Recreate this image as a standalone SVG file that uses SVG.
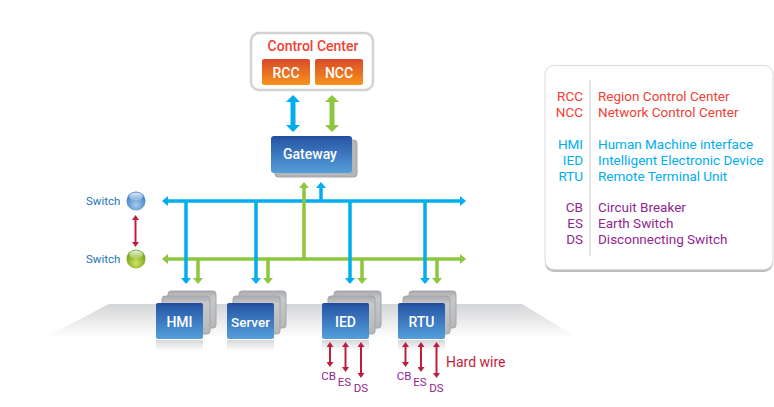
<svg xmlns="http://www.w3.org/2000/svg" width="774" height="407" viewBox="0 0 774 407">
<style>
text{font-family:Roboto,"Liberation Sans",sans-serif}
.w{fill:#fff;font-size:14px;text-anchor:middle;font-weight:500}
.bk{fill:url(#gGray);stroke:#a3a5a8;stroke-width:1}
.fr{fill:url(#gBlue)}
.or{fill:url(#gOrange)}
.bl{stroke:#00aeef;stroke-width:3.500;fill:none}
.gr{stroke:#8dc63f;stroke-width:3.500;fill:none}
.rd{stroke:#be1e3c;stroke-width:2;fill:none}
.tr{fill:#ef4136;font-size:13.500px}
.tb{fill:#00aeef;font-size:13.500px}
.tp{fill:#92278f;font-size:13.500px}
.e{text-anchor:end}
.sw{fill:#1b75bb;font-size:11.500px}
.sm{fill:#92278f;font-size:11.500px;text-anchor:middle}
</style>
<defs>
<linearGradient id="gBlue" x1="0" y1="0" x2="0" y2="1"><stop offset="0" stop-color="#24499c"/><stop offset=".12" stop-color="#2a5cab"/><stop offset="1" stop-color="#559fda"/></linearGradient>
<linearGradient id="gOrange" x1="0" y1="0" x2="0" y2="1"><stop offset="0" stop-color="#d9492a"/><stop offset="1" stop-color="#f7941d"/></linearGradient>
<linearGradient id="gGray" x1="0" y1="0" x2="0" y2="1"><stop offset="0" stop-color="#a8aaad"/><stop offset=".2" stop-color="#c6c8ca"/><stop offset="1" stop-color="#b5b7b9"/></linearGradient>
<linearGradient id="gFloor" x1="0" y1="0" x2="0" y2="1"><stop offset="0" stop-color="#d4d5d7"/><stop offset="1" stop-color="#ffffff"/></linearGradient>
<linearGradient id="gRefl" x1="0" y1="0" x2="0" y2="1"><stop offset="0" stop-color="#d6d7d9"/><stop offset="1" stop-color="#ffffff"/></linearGradient>
<radialGradient id="gS1" cx=".5" cy=".7" r=".6"><stop offset="0" stop-color="#a5cdf0"/><stop offset="1" stop-color="#3f7fc4"/></radialGradient>
<radialGradient id="gS2" cx=".5" cy=".7" r=".6"><stop offset="0" stop-color="#d5e26a"/><stop offset="1" stop-color="#6fa311"/></radialGradient>
<linearGradient id="gGloss" x1="0" y1="0" x2="0" y2="1"><stop offset="0" stop-color="#fff" stop-opacity=".85"/><stop offset="1" stop-color="#fff" stop-opacity=".15"/></linearGradient>
<marker id="mB" markerUnits="userSpaceOnUse" viewBox="0 0 6 10" refX="2" refY="5" markerWidth="6" markerHeight="10" orient="auto-start-reverse"><path d="M0 0L6 5L0 10z" fill="#00aeef"/></marker>
<marker id="mG" markerUnits="userSpaceOnUse" viewBox="0 0 6 10" refX="2" refY="5" markerWidth="6" markerHeight="10" orient="auto-start-reverse"><path d="M0 0L6 5L0 10z" fill="#8dc63f"/></marker>
<marker id="mBb" markerUnits="userSpaceOnUse" viewBox="0 0 7 14" refX="2" refY="7" markerWidth="7" markerHeight="14" orient="auto-start-reverse"><path d="M0 0L7 7L0 14z" fill="#00aeef"/></marker>
<marker id="mGb" markerUnits="userSpaceOnUse" viewBox="0 0 7 14" refX="2" refY="7" markerWidth="7" markerHeight="14" orient="auto-start-reverse"><path d="M0 0L7 7L0 14z" fill="#8dc63f"/></marker>
<marker id="mR" markerUnits="userSpaceOnUse" viewBox="0 0 5 7" refX="2" refY="3.500" markerWidth="5" markerHeight="7" orient="auto-start-reverse"><path d="M0 0L5 3.500L0 7z" fill="#be1e3c"/></marker>
</defs>
<polygon id="floor" points="109,304 522,304 578,338 44,338" fill="url(#gFloor)"/>
<g id="control-center">
<rect x="251" y="33" width="122" height="57" rx="8" fill="#fff" stroke="#d1d2d4" stroke-width="2.500"/>
<text x="313" y="51" text-anchor="middle" font-size="14" font-weight="500" fill="#ef4136">Control Center</text>
<g id="rcc"><rect x="262" y="59" width="48" height="26" rx="2" class="or"/><text x="286" y="78" class="w">RCC</text></g>
<g id="ncc"><rect x="315" y="59" width="48" height="26" rx="2" class="or"/><text x="339" y="78" class="w">NCC</text></g>
</g>
<g id="gateway">
<rect x="275" y="140" width="82" height="37" rx="3" fill="#b3b5b8" stroke="#a3a5a8"/>
<rect x="271" y="136" width="81" height="37" rx="3" class="fr"/>
<text x="310" y="159" class="w">Gateway</text>
</g>
<g id="switch-blue">
<text x="86" y="205" class="sw">Switch</text>
<circle cx="136" cy="201" r="9.500" fill="url(#gS1)"/>
<ellipse cx="136" cy="196.500" rx="7" ry="4" fill="url(#gGloss)"/>
</g>
<g id="switch-green">
<text x="86" y="263" class="sw">Switch</text>
<circle cx="136" cy="259" r="9.500" fill="url(#gS2)"/>
<ellipse cx="136" cy="254.500" rx="7" ry="4" fill="url(#gGloss)"/>
</g>
<g id="hmi">
<rect x="168" y="291" width="48" height="37" rx="3" class="bk"/>
<rect x="162" y="296" width="48" height="38" rx="3" class="bk"/>
<rect x="156" y="340" width="47" height="11" fill="url(#gRefl)"/>
<rect x="156" y="303" width="47" height="36" rx="2" class="fr"/>
<text x="179.500" y="327" class="w">HMI</text>
</g>
<g id="server">
<rect x="239" y="291" width="47" height="37" rx="3" class="bk"/>
<rect x="233" y="296" width="47" height="38" rx="3" class="bk"/>
<rect x="227" y="340" width="47" height="11" fill="url(#gRefl)"/>
<rect x="227" y="303" width="47" height="36" rx="2" class="fr"/>
<text x="250.500" y="327" class="w" style="font-size:13.500px">Server</text>
</g>
<g id="ied">
<rect x="334" y="291" width="47" height="37" rx="3" class="bk"/>
<rect x="328" y="296" width="47" height="38" rx="3" class="bk"/>
<rect x="322" y="340" width="47" height="11" fill="url(#gRefl)"/>
<rect x="322" y="303" width="47" height="36" rx="2" class="fr"/>
<text x="345.500" y="327" class="w">IED</text>
</g>
<g id="rtu">
<rect x="409" y="291" width="47" height="37" rx="3" class="bk"/>
<rect x="403" y="296" width="47" height="38" rx="3" class="bk"/>
<rect x="398" y="340" width="47" height="11" fill="url(#gRefl)"/>
<rect x="398" y="303" width="47" height="36" rx="2" class="fr"/>
<text x="421.500" y="327" class="w">RTU</text>
</g>
<g id="connectors">
<path class="bl" style="stroke-width:5" marker-start="url(#mBb)" marker-end="url(#mBb)" d="M293 100V127"/>
<path class="gr" style="stroke-width:5" marker-start="url(#mGb)" marker-end="url(#mGb)" d="M332 100V127"/>
<path class="bl" marker-start="url(#mB)" marker-end="url(#mB)" d="M166 201H462"/>
<path class="gr" marker-start="url(#mG)" marker-end="url(#mG)" d="M166 259H462"/>
<path class="rd" marker-start="url(#mR)" marker-end="url(#mR)" d="M135.500 218V244"/>
<path class="gr" marker-end="url(#mG)" d="M304 259V186"/>
<path class="bl" marker-end="url(#mB)" d="M321 201V186"/>
<path class="bl" marker-end="url(#mB)" d="M186 201V280"/>
<path class="gr" marker-end="url(#mG)" d="M198 259V280"/>
<path class="bl" marker-end="url(#mB)" d="M256 201V280"/>
<path class="gr" marker-end="url(#mG)" d="M268 259V280"/>
<path class="bl" marker-end="url(#mB)" d="M350 201V280"/>
<path class="gr" marker-end="url(#mG)" d="M362 259V280"/>
<path class="bl" marker-end="url(#mB)" d="M425 201V280"/>
<path class="gr" marker-end="url(#mG)" d="M437 259V280"/>
<path class="rd" marker-start="url(#mR)" marker-end="url(#mR)" d="M330 345V364"/>
<path class="rd" marker-start="url(#mR)" marker-end="url(#mR)" d="M345.500 345V369"/>
<path class="rd" marker-start="url(#mR)" marker-end="url(#mR)" d="M361 345V375"/>
<path class="rd" marker-start="url(#mR)" marker-end="url(#mR)" d="M405.500 345V364"/>
<path class="rd" marker-start="url(#mR)" marker-end="url(#mR)" d="M421 345V369"/>
<path class="rd" marker-start="url(#mR)" marker-end="url(#mR)" d="M436.500 345V375"/>
</g>
<g id="labels">
<text x="328.500" y="380" class="sm">CB</text>
<text x="344.500" y="386" class="sm">ES</text>
<text x="361" y="392" class="sm">DS</text>
<text x="404" y="380" class="sm">CB</text>
<text x="420" y="386" class="sm">ES</text>
<text x="436.500" y="392" class="sm">DS</text>
<text x="446" y="367" font-size="14" fill="#be1e3c">Hard wire</text>
</g>
<g id="legend">
<rect x="545" y="68" width="228" height="204" rx="9" fill="#bcbec0"/>
<rect x="545" y="65.500" width="228" height="204" rx="9" fill="#fff" stroke="#d9dadb"/>
<path d="M590 80V256" stroke="#dcdddf" stroke-width="1.500"/>
<g class="tr">
<text x="583" y="101" class="e">RCC</text><text x="598" y="101">Region Control Center</text>
<text x="583" y="117" class="e">NCC</text><text x="598" y="117">Network Control Center</text>
</g>
<g class="tb">
<text x="583" y="149" class="e">HMI</text><text x="598" y="149">Human Machine interface</text>
<text x="583" y="164.500" class="e">IED</text><text x="598" y="164.500">Intelligent Electronic Device</text>
<text x="583" y="180.500" class="e">RTU</text><text x="598" y="180.500">Remote Terminal Unit</text>
</g>
<g class="tp">
<text x="583" y="212" class="e">CB</text><text x="598" y="212">Circuit Breaker</text>
<text x="583" y="228" class="e">ES</text><text x="598" y="228">Earth Switch</text>
<text x="583" y="244" class="e">DS</text><text x="598" y="244">Disconnecting Switch</text>
</g>
</g>
</svg>
